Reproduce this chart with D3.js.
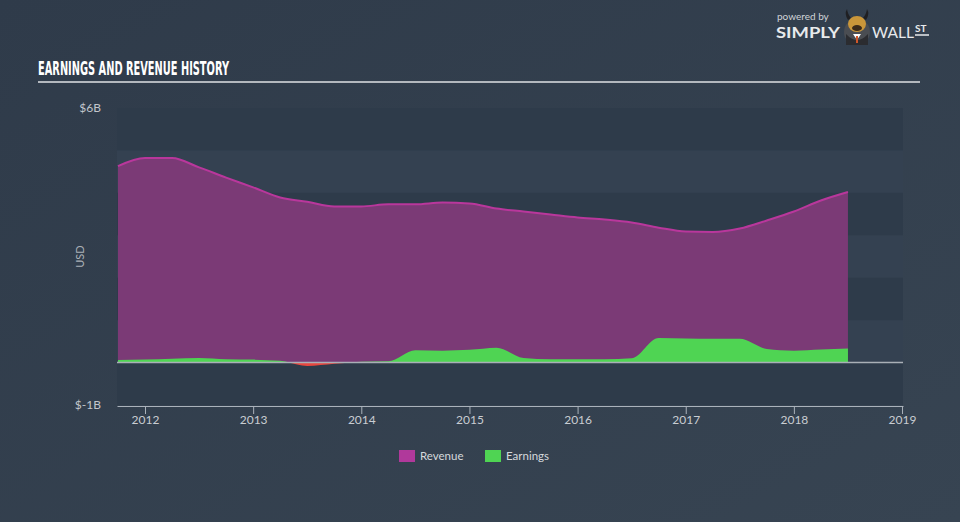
<!DOCTYPE html>
<html><head><meta charset="utf-8">
<script src="https://cdn.jsdelivr.net/npm/d3@7"></script>
<style>
html,body{margin:0;padding:0;background:#334150;}
svg{display:block;}
</style></head>
<body>
<svg id="chart" width="960" height="522"></svg>
<script>
const periods = [2011.75,2012.0,2012.25,2012.5,2012.75,2013.0,2013.25,2013.5,2013.75,2014.0,2014.25,2014.5,2014.75,2015.0,2015.25,2015.5,2015.75,2016.0,2016.25,2016.5,2016.75,2017.0,2017.25,2017.5,2017.75,2018.0,2018.25,2018.5];
const revenue = [4.63,4.82,4.82,4.60,4.36,4.13,3.89,3.79,3.68,3.68,3.73,3.73,3.77,3.75,3.63,3.56,3.49,3.42,3.37,3.30,3.18,3.09,3.08,3.16,3.35,3.56,3.82,4.02];
const earnings = [0.06,0.07,0.09,0.11,0.08,0.07,0.04,-0.08,-0.03,0.02,0.03,0.29,0.28,0.30,0.35,0.11,0.08,0.08,0.08,0.10,0.58,0.57,0.56,0.56,0.32,0.28,0.31,0.33];
const xTicks = [2012,2013,2014,2015,2016,2017,2018,2019];
const yTickValues = [6,-1];
const yTickLabels = ["$6B","$-1B"];
const seriesNames = ["Revenue","Earnings"];
const seriesColors = ["#b0399b","#4fd453"];

const svg = d3.select("#chart");
const x = d3.scaleLinear().domain([2011.741,2019.009]).range([117,903]);
const y = d3.scaleLinear().domain([-1,6]).range([405,108]);

const defs = svg.append("defs");
const bg = defs.append("linearGradient").attr("id","bg").attr("x1","0").attr("y1","0").attr("x2","1").attr("y2","1");
bg.append("stop").attr("offset","0").attr("stop-color","#2f3b4a");
bg.append("stop").attr("offset","1").attr("stop-color","#374452");
svg.append("rect").attr("width",960).attr("height",522).attr("fill","url(#bg)");

svg.append("rect").attr("x",x.range()[0]).attr("y",y(6)).attr("width",x.range()[1]-x.range()[0]).attr("height",y(-1)-y(6)).attr("fill","#344151");
[-1,1,3,5].forEach(b=>{
  svg.append("rect").attr("x",x.range()[0]).attr("y",y(b+1)).attr("width",x.range()[1]-x.range()[0]).attr("height",y(b)-y(b+1)).attr("fill","#2e3b4a");
});

const data = periods.map((p,i)=>({p, r:revenue[i], e:earnings[i]}));
const curve = d3.curveMonotoneX;

svg.append("path").datum(data)
  .attr("d", d3.area().x(d=>x(d.p)).y0(y(0)).y1(d=>y(d.r)).curve(curve))
  .attr("fill","#7b3a76");
svg.append("path").datum(data)
  .attr("d", d3.line().x(d=>x(d.p)).y(d=>y(d.r)).curve(curve))
  .attr("fill","none").attr("stroke","#b9379c").attr("stroke-width",2);

defs.append("clipPath").attr("id","pos").append("rect").attr("x",0).attr("y",0).attr("width",960).attr("height",y(0));
defs.append("clipPath").attr("id","neg").append("rect").attr("x",0).attr("y",y(0)).attr("width",960).attr("height",200);
const eArea = d3.area().x(d=>x(d.p)).y0(y(0)).y1(d=>y(d.e)).curve(curve);
svg.append("path").datum(data).attr("d",eArea).attr("fill","#4fd453").attr("clip-path","url(#pos)");
svg.append("path").datum(data).attr("d",eArea).attr("fill","#e8473f").attr("clip-path","url(#neg)");

svg.append("line").attr("x1",x.range()[0]).attr("x2",x.range()[1]).attr("y1",y(0)).attr("y2",y(0))
  .attr("stroke","#a9afb6").attr("stroke-width",1.5);

const xAxis = svg.append("g").attr("transform",`translate(0,${y(-1)+1})`)
  .call(d3.axisBottom(x).tickValues(xTicks).tickFormat(d3.format("d")).tickSize(8).tickSizeOuter(0));
xAxis.select(".domain").attr("stroke","#aab2bb").attr("stroke-width",1.2);
xAxis.selectAll(".tick line").attr("stroke","#aab2bb");
xAxis.selectAll(".tick text").attr("fill","#c9cdd2").attr("font-size",12).attr("font-family","Lato, 'Open Sans', sans-serif").attr("dy","0.95em").attr("y",7);

svg.append("g").selectAll("text").data(yTickValues).join("text")
  .attr("x",101).attr("y",d=>y(d)).attr("dy","0.35em").attr("text-anchor","end")
  .attr("fill","#c2c6cb").attr("font-size",12).attr("font-family","Lato, 'Open Sans', sans-serif")
  .text((d,i)=>yTickLabels[i]);
svg.append("text").attr("transform",`translate(84,${(y(6)+y(-1))/2}) rotate(-90)`)
  .attr("text-anchor","middle").attr("fill","#aab0b7").attr("font-size",11).attr("font-family","Lato, 'Open Sans', sans-serif").text("USD");

svg.append("text").attr("x",38).attr("y",75).attr("fill","#ffffff").attr("font-size",20).attr("font-weight","bold")
  .attr("font-family","'DejaVu Sans Condensed','Liberation Sans Narrow',sans-serif").attr("textLength",191).attr("lengthAdjust","spacingAndGlyphs")
  .text("EARNINGS AND REVENUE HISTORY");
svg.append("line").attr("x1",38).attr("x2",920).attr("y1",82).attr("y2",82).attr("stroke","#b3b8be").attr("stroke-width",2);

const leg = svg.append("g");
const legX = [399,485];
seriesNames.forEach((n,i)=>{
  leg.append("rect").attr("x",legX[i]).attr("y",450).attr("width",16).attr("height",12).attr("fill",seriesColors[i]);
  leg.append("text").attr("x",legX[i]+21).attr("y",456).attr("dy","0.35em").attr("fill","#d6d9dd").attr("font-size",11.5)
    .attr("font-family","Lato, 'Open Sans', sans-serif").text(n);
});

// logo
const logo = svg.append("g");
logo.append("text").attr("x",777).attr("y",20).attr("fill","#d0d4d8").attr("font-size",10).attr("font-family","Lato, sans-serif").text("powered by");
logo.append("text").attr("x",776).attr("y",38).attr("fill","#e8eaec").attr("font-size",15).attr("font-weight","bold").attr("font-family","Lato, sans-serif").attr("textLength",64).attr("lengthAdjust","spacingAndGlyphs").text("SIMPLY");
// bull icon
logo.append("circle").attr("cx",857).attr("cy",32).attr("r",13).attr("fill","#4a4d52");
logo.append("path").attr("d","M846,34 Q857,46 868,34 L868,45 L846,45 Z").attr("fill","#2b2c30");
logo.append("path").attr("d","M853,34 L857,40 L861,34 Z").attr("fill","#ffffff");
logo.append("rect").attr("x",856).attr("y",36).attr("width",2).attr("height",7).attr("fill","#d0562a");
logo.append("ellipse").attr("cx",857).attr("cy",24).attr("rx",9).attr("ry",8).attr("fill","#c9963a");
logo.append("ellipse").attr("cx",857).attr("cy",28).attr("rx",5).attr("ry",3).attr("fill","#3a2a1a");
logo.append("path").attr("d","M848,20 Q844,14 847,9 Q848,15 851,18 Z M866,20 Q870,14 867,9 Q866,15 863,18 Z").attr("fill","#1f1f22");
logo.append("text").attr("x",872).attr("y",38).attr("fill","#e8eaec").attr("font-size",15).attr("font-family","Lato, sans-serif").attr("textLength",42).attr("lengthAdjust","spacingAndGlyphs").text("WALL");
logo.append("text").attr("x",915).attr("y",32).attr("fill","#e8eaec").attr("font-size",10).attr("font-weight","bold").attr("font-family","Lato, sans-serif").text("ST");
logo.append("line").attr("x1",915).attr("x2",929).attr("y1",35).attr("y2",35).attr("stroke","#e8eaec").attr("stroke-width",1.5);
</script>
</body></html>
